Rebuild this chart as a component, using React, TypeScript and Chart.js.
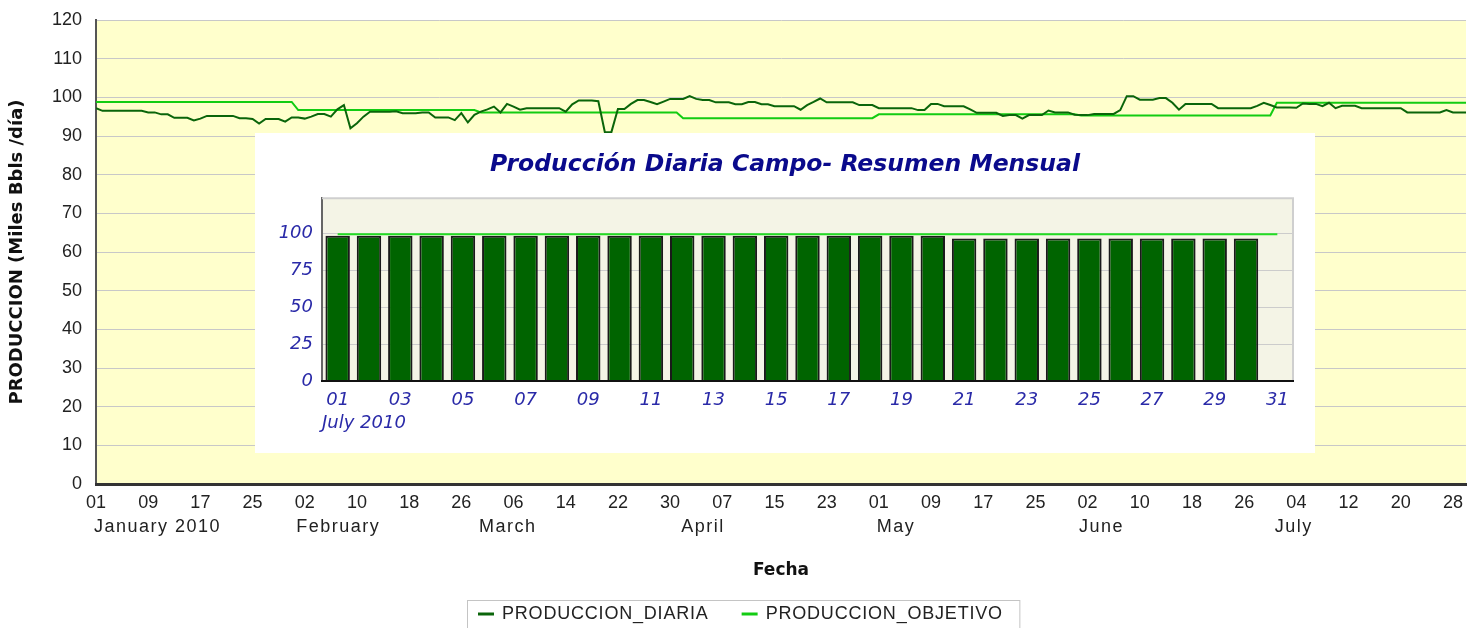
import React, { useEffect, useRef } from 'react';
import { Chart, registerables } from 'chart.js';

Chart.register(...registerables);
Chart.defaults.font.family = 'Liberation Sans';

// ---------- Main chart data (day index 0 = 01 January 2010) ----------
const monthNames = ['January 2010', 'February', 'March', 'April', 'May', 'June', 'July'];
const monthStartDays = [0, 31, 59, 90, 120, 151, 181];
const monthlyTarget = [98.8, 96.7, 96.1, 94.6, 95.6, 95.3, 98.6];

const dailyProduction = [
  97.2, 96.5, 96.5, 96.5, 96.5, 96.5, 96.5, 96.5, 96.1, 96.1,
  95.6, 95.6, 94.7, 94.7, 94.7, 94.0, 94.5, 95.2, 95.2, 95.2,
  95.2, 95.2, 94.6, 94.6, 94.4, 93.2, 94.4, 94.4, 94.4, 93.7,
  94.8, 94.8, 94.5, 95.0, 95.7, 95.7, 95.0, 96.9, 98.0, 92.0,
  93.3, 95.0, 96.3, 96.3, 96.3, 96.3, 96.4, 95.9, 95.9, 95.9,
  96.1, 96.1, 94.8, 94.8, 94.8, 94.1, 95.9, 93.5, 95.5, 96.3,
  96.9, 97.6, 96.1, 98.3, 97.6, 96.8, 97.2, 97.2, 97.2, 97.2,
  97.2, 97.2, 96.3, 98.2, 99.2, 99.2, 99.2, 99.0, 91.0, 91.0,
  97.0, 97.0, 98.3, 99.3, 99.3, 98.8, 98.2, 98.9, 99.6, 99.6,
  99.6, 100.3, 99.6, 99.3, 99.3, 98.7, 98.7, 98.7, 98.2, 98.2,
  98.8, 98.8, 98.2, 98.2, 97.7, 97.7, 97.7, 97.7, 96.8, 98.0,
  98.8, 99.7, 98.7, 98.7, 98.7, 98.7, 98.7, 98.0, 98.0, 98.0,
  97.2, 97.2, 97.2, 97.2, 97.2, 97.2, 96.7, 96.7, 98.3, 98.3,
  97.7, 97.7, 97.7, 97.7, 96.9, 96.0, 96.0, 96.0, 96.0, 95.2,
  95.4, 95.4, 94.5, 95.4, 95.4, 95.4, 96.6, 96.1, 96.1, 96.1,
  95.5, 95.4, 95.4, 95.7, 95.7, 95.7, 95.7, 96.7, 100.3, 100.3,
  99.4, 99.4, 99.4, 99.8, 99.8, 98.6, 96.8, 98.3, 98.3, 98.3,
  98.3, 98.3, 97.2, 97.2, 97.2, 97.2, 97.2, 97.2, 97.8, 98.6,
  98.0, 97.4, 97.4, 97.4, 97.3, 98.4, 98.3, 98.3, 97.7, 98.6,
  97.2, 97.8, 97.8, 97.8, 97.2, 97.2, 97.2, 97.2, 97.2, 97.2,
  97.2, 96.1, 96.1, 96.1, 96.1, 96.1, 96.1, 96.7, 96.1, 96.1, 96.1,
];

// ---------- Inset chart data (July 2010) ----------
const julyDays = [
  '01', '02', '03', '04', '05', '06', '07', '08', '09', '10',
  '11', '12', '13', '14', '15', '16', '17', '18', '19', '20',
  '21', '22', '23', '24', '25', '26', '27', '28', '29', '30', '31',
];
const julyProduction = [
  98.5, 98.5, 98.5, 98.5, 98.5, 98.5, 98.5, 98.5, 98.5, 98.5,
  98.5, 98.5, 98.5, 98.5, 98.5, 98.5, 98.5, 98.5, 98.5, 98.5,
  96.7, 96.7, 96.7, 96.7, 96.7, 96.7, 96.7, 96.7, 96.7, 96.7,
];
const julyTarget = [
  99.6, 99.6, 99.6, 99.6, 99.6, 99.6, 99.6, 99.6, 99.6, 99.6,
  99.6, 99.6, 99.6, 99.6, 99.6, 99.6, 99.6, 99.6, 99.6, 99.6,
  99.6, 99.6, 99.6, 99.6, 99.6, 99.6, 99.6, 99.6, 99.6, 99.6, 99.6,
];

const DARK_GREEN = '#0a650a';
const BRIGHT_GREEN = '#12cc12';
const INSET_BLUE = '#2a2aa8';

function monthOfDay(day: number) {
  let m = 0;
  for (let k = 0; k < monthStartDays.length; k++) if (day >= monthStartDays[k]) m = k;
  return m;
}
const dailyTarget = dailyProduction.map((_, i) => monthlyTarget[monthOfDay(i)]);

const pad2 = (n: number) => String(n).padStart(2, '0');

const mainDecor = {
  id: 'mainDecor',
  beforeDraw(chart: any) {
    const { ctx, chartArea: a } = chart;
    ctx.save();
    ctx.fillStyle = '#ffffff';
    ctx.fillRect(0, 0, chart.width, chart.height);
    ctx.fillStyle = '#FFFFCC';
    ctx.fillRect(a.left, a.top, a.right - a.left, a.bottom - a.top);
    ctx.restore();
  },
  afterDraw(chart: any) {
    const { ctx } = chart;
    const xs = chart.scales.x;
    ctx.save();
    ctx.font = '18px "Liberation Sans"';
    ctx.fillStyle = '#222';
    ctx.textBaseline = 'middle';
    ctx.textAlign = 'left';
    ctx.letterSpacing = '1.5px';
    monthStartDays.forEach((d, i) => {
      ctx.fillText(monthNames[i], xs.getPixelForValue(d) - 2, xs.top + 43);
    });
    // legend
    ctx.letterSpacing = '0.8px';
    let x = 478;
    const y = 614;
    chart.data.datasets.forEach((ds: any) => {
      ctx.strokeStyle = ds.borderColor;
      ctx.lineWidth = 3;
      ctx.beginPath();
      ctx.moveTo(x, y);
      ctx.lineTo(x + 16, y);
      ctx.stroke();
      ctx.fillStyle = '#222';
      ctx.fillText(ds.label, x + 24, y);
      x += 24 + ctx.measureText(ds.label).width + 33;
    });
    ctx.strokeStyle = '#c4c4c4';
    ctx.lineWidth = 1;
    ctx.strokeRect(467.5, 600.5, x - 33 + 17 - 467.5, 40);
    ctx.restore();
  },
};

const insetDecor = {
  id: 'insetDecor',
  beforeDraw(chart: any) {
    const { ctx, chartArea: a } = chart;
    ctx.save();
    ctx.fillStyle = '#ffffff';
    ctx.fillRect(0, 0, chart.width, chart.height);
    ctx.fillStyle = '#F4F4E6';
    ctx.fillRect(a.left, a.top, a.right - a.left, a.bottom - a.top);
    ctx.restore();
  },
  beforeDatasetsDraw(chart: any) {
    const { ctx, chartArea: a } = chart;
    ctx.save();
    ctx.strokeStyle = '#cfcfcf';
    ctx.lineWidth = 2;
    ctx.beginPath();
    ctx.moveTo(a.left, a.top);
    ctx.lineTo(a.right, a.top);
    ctx.lineTo(a.right, a.bottom);
    ctx.stroke();
    ctx.restore();
  },
  afterDraw(chart: any) {
    const { ctx, chartArea: a } = chart;
    const xs = chart.scales.x;
    ctx.save();
    ctx.font = 'italic 18px "DejaVu Sans"';
    ctx.fillStyle = INSET_BLUE;
    ctx.textBaseline = 'middle';
    ctx.textAlign = 'left';
    ctx.fillText('July 2010', a.left, xs.top + 42);
    ctx.restore();
  },
};

export default function App() {
  const mainRef = useRef<HTMLCanvasElement>(null);
  const insetRef = useRef<HTMLCanvasElement>(null);

  useEffect(() => {
    const main = new Chart(mainRef.current as HTMLCanvasElement, {
      type: 'line',
      data: {
        datasets: [
          {
            label: 'PRODUCCION_DIARIA',
            data: dailyProduction.map((v, i) => ({ x: i, y: v })),
            borderColor: DARK_GREEN,
            borderWidth: 2,
            pointRadius: 0,
            tension: 0,
          },
          {
            label: 'PRODUCCION_OBJETIVO',
            data: dailyTarget.map((v, i) => ({ x: i, y: v })),
            borderColor: BRIGHT_GREEN,
            borderWidth: 2,
            pointRadius: 0,
            tension: 0,
          },
        ],
      },
      options: {
        responsive: false,
        animation: false,
        layout: { padding: { left: 0, right: 2, top: 20, bottom: 0 } },
        plugins: { legend: { display: false }, tooltip: { enabled: false } },
        scales: {
          x: {
            type: 'linear',
            min: 0,
            max: 210,
            afterBuildTicks: (s: any) => {
              s.ticks = s.ticks.filter((t: any) => t.value % 8 === 0);
            },
            afterFit: (s: any) => {
              s.height = 144;
              s.paddingRight = 0;
            },
            ticks: {
              stepSize: 8,
              includeBounds: false,
              autoSkip: false,
              maxRotation: 0,
              padding: 8,
              color: '#222',
              font: { family: 'Liberation Sans', size: 18 },
              callback: (v: any) => pad2(new Date(2010, 0, 1 + Number(v)).getDate()),
            },
            grid: { display: false, drawTicks: false },
            border: { display: true, color: '#333', width: 3, z: 1 },
            title: {
              display: true,
              text: 'Fecha',
              color: '#111',
              font: { family: 'DejaVu Sans', size: 17, weight: 'bold' },
              padding: { top: 0, bottom: 47 },
            },
          },
          y: {
            min: 0,
            max: 120,
            afterFit: (s: any) => {
              s.width = 96;
            },
            ticks: {
              stepSize: 10,
              padding: 9,
              color: '#222',
              font: { family: 'Liberation Sans', size: 18 },
            },
            grid: { color: '#c8c8c8', lineWidth: 1, drawTicks: true, tickLength: 5, tickColor: 'rgba(0,0,0,0)' },
            border: { color: '#555', width: 2 },
            title: {
              display: true,
              text: 'PRODUCCION (Miles Bbls /día)',
              color: '#111',
              font: { family: 'DejaVu Sans', size: 18, weight: 'bold' },
              padding: { top: 7, bottom: 0 },
            },
          },
        },
      } as any,
      plugins: [mainDecor],
    });

    const inset = new Chart(insetRef.current as HTMLCanvasElement, {
      type: 'bar',
      data: {
        labels: julyDays,
        datasets: [
          {
            type: 'line',
            label: 'PRODUCCION_OBJETIVO',
            data: julyTarget,
            borderColor: '#22dd22',
            borderWidth: 2,
            pointRadius: 0,
            order: 0,
          } as any,
          {
            type: 'bar',
            label: 'PRODUCCION_DIARIA',
            data: julyProduction,
            backgroundColor: '#006400',
            borderColor: '#1a1a1a',
            borderWidth: 2,
            barPercentage: 0.78,
            categoryPercentage: 1,
            order: 1,
          },
        ],
      },
      options: {
        responsive: false,
        animation: false,
        layout: { padding: { left: 22, right: 22, top: 0, bottom: 0 } },
        plugins: {
          legend: { display: false },
          tooltip: { enabled: false },
          title: {
            display: true,
            text: 'Producción Diaria Campo- Resumen Mensual',
            color: '#0a0a8c',
            font: { family: 'DejaVu Sans', size: 23.5, weight: 'bold', style: 'italic' },
            padding: { top: 18, bottom: 19 },
          },
        },
        scales: {
          x: {
            offset: true,
            grid: { display: false, drawTicks: false },
            border: { color: '#111', width: 2, z: 1 },
            afterFit: (s: any) => {
              s.height = 72;
            },
            ticks: {
              autoSkip: false,
              maxRotation: 0,
              padding: 9,
              color: INSET_BLUE,
              font: { family: 'DejaVu Sans', style: 'italic', size: 18 },
              callback: (_v: any, i: number) => (i % 2 === 0 ? julyDays[i] : ''),
            },
          },
          y: {
            min: 0,
            max: 124,
            afterBuildTicks: (s: any) => {
              s.ticks = s.ticks.filter((t: any) => t.value % 25 === 0);
            },
            afterFit: (s: any) => {
              s.width = 45;
            },
            ticks: {
              stepSize: 25,
              padding: 9,
              color: INSET_BLUE,
              font: { family: 'DejaVu Sans', style: 'italic', size: 18 },
            },
            grid: { color: '#cccccc', lineWidth: 1, drawTicks: false },
            border: { color: '#666', width: 2 },
          },
        },
      } as any,
      plugins: [insetDecor],
    });

    return () => {
      main.destroy();
      inset.destroy();
    };
  }, []);

  return (
    <div style={{ position: 'absolute', left: 0, top: 0, width: 1468, height: 628, background: '#ffffff' }}>
      <canvas ref={mainRef} width={1468} height={628} style={{ position: 'absolute', left: 0, top: 0 }} />
      <canvas ref={insetRef} width={1060} height={320} style={{ position: 'absolute', left: 255, top: 133 }} />
    </div>
  );
}
